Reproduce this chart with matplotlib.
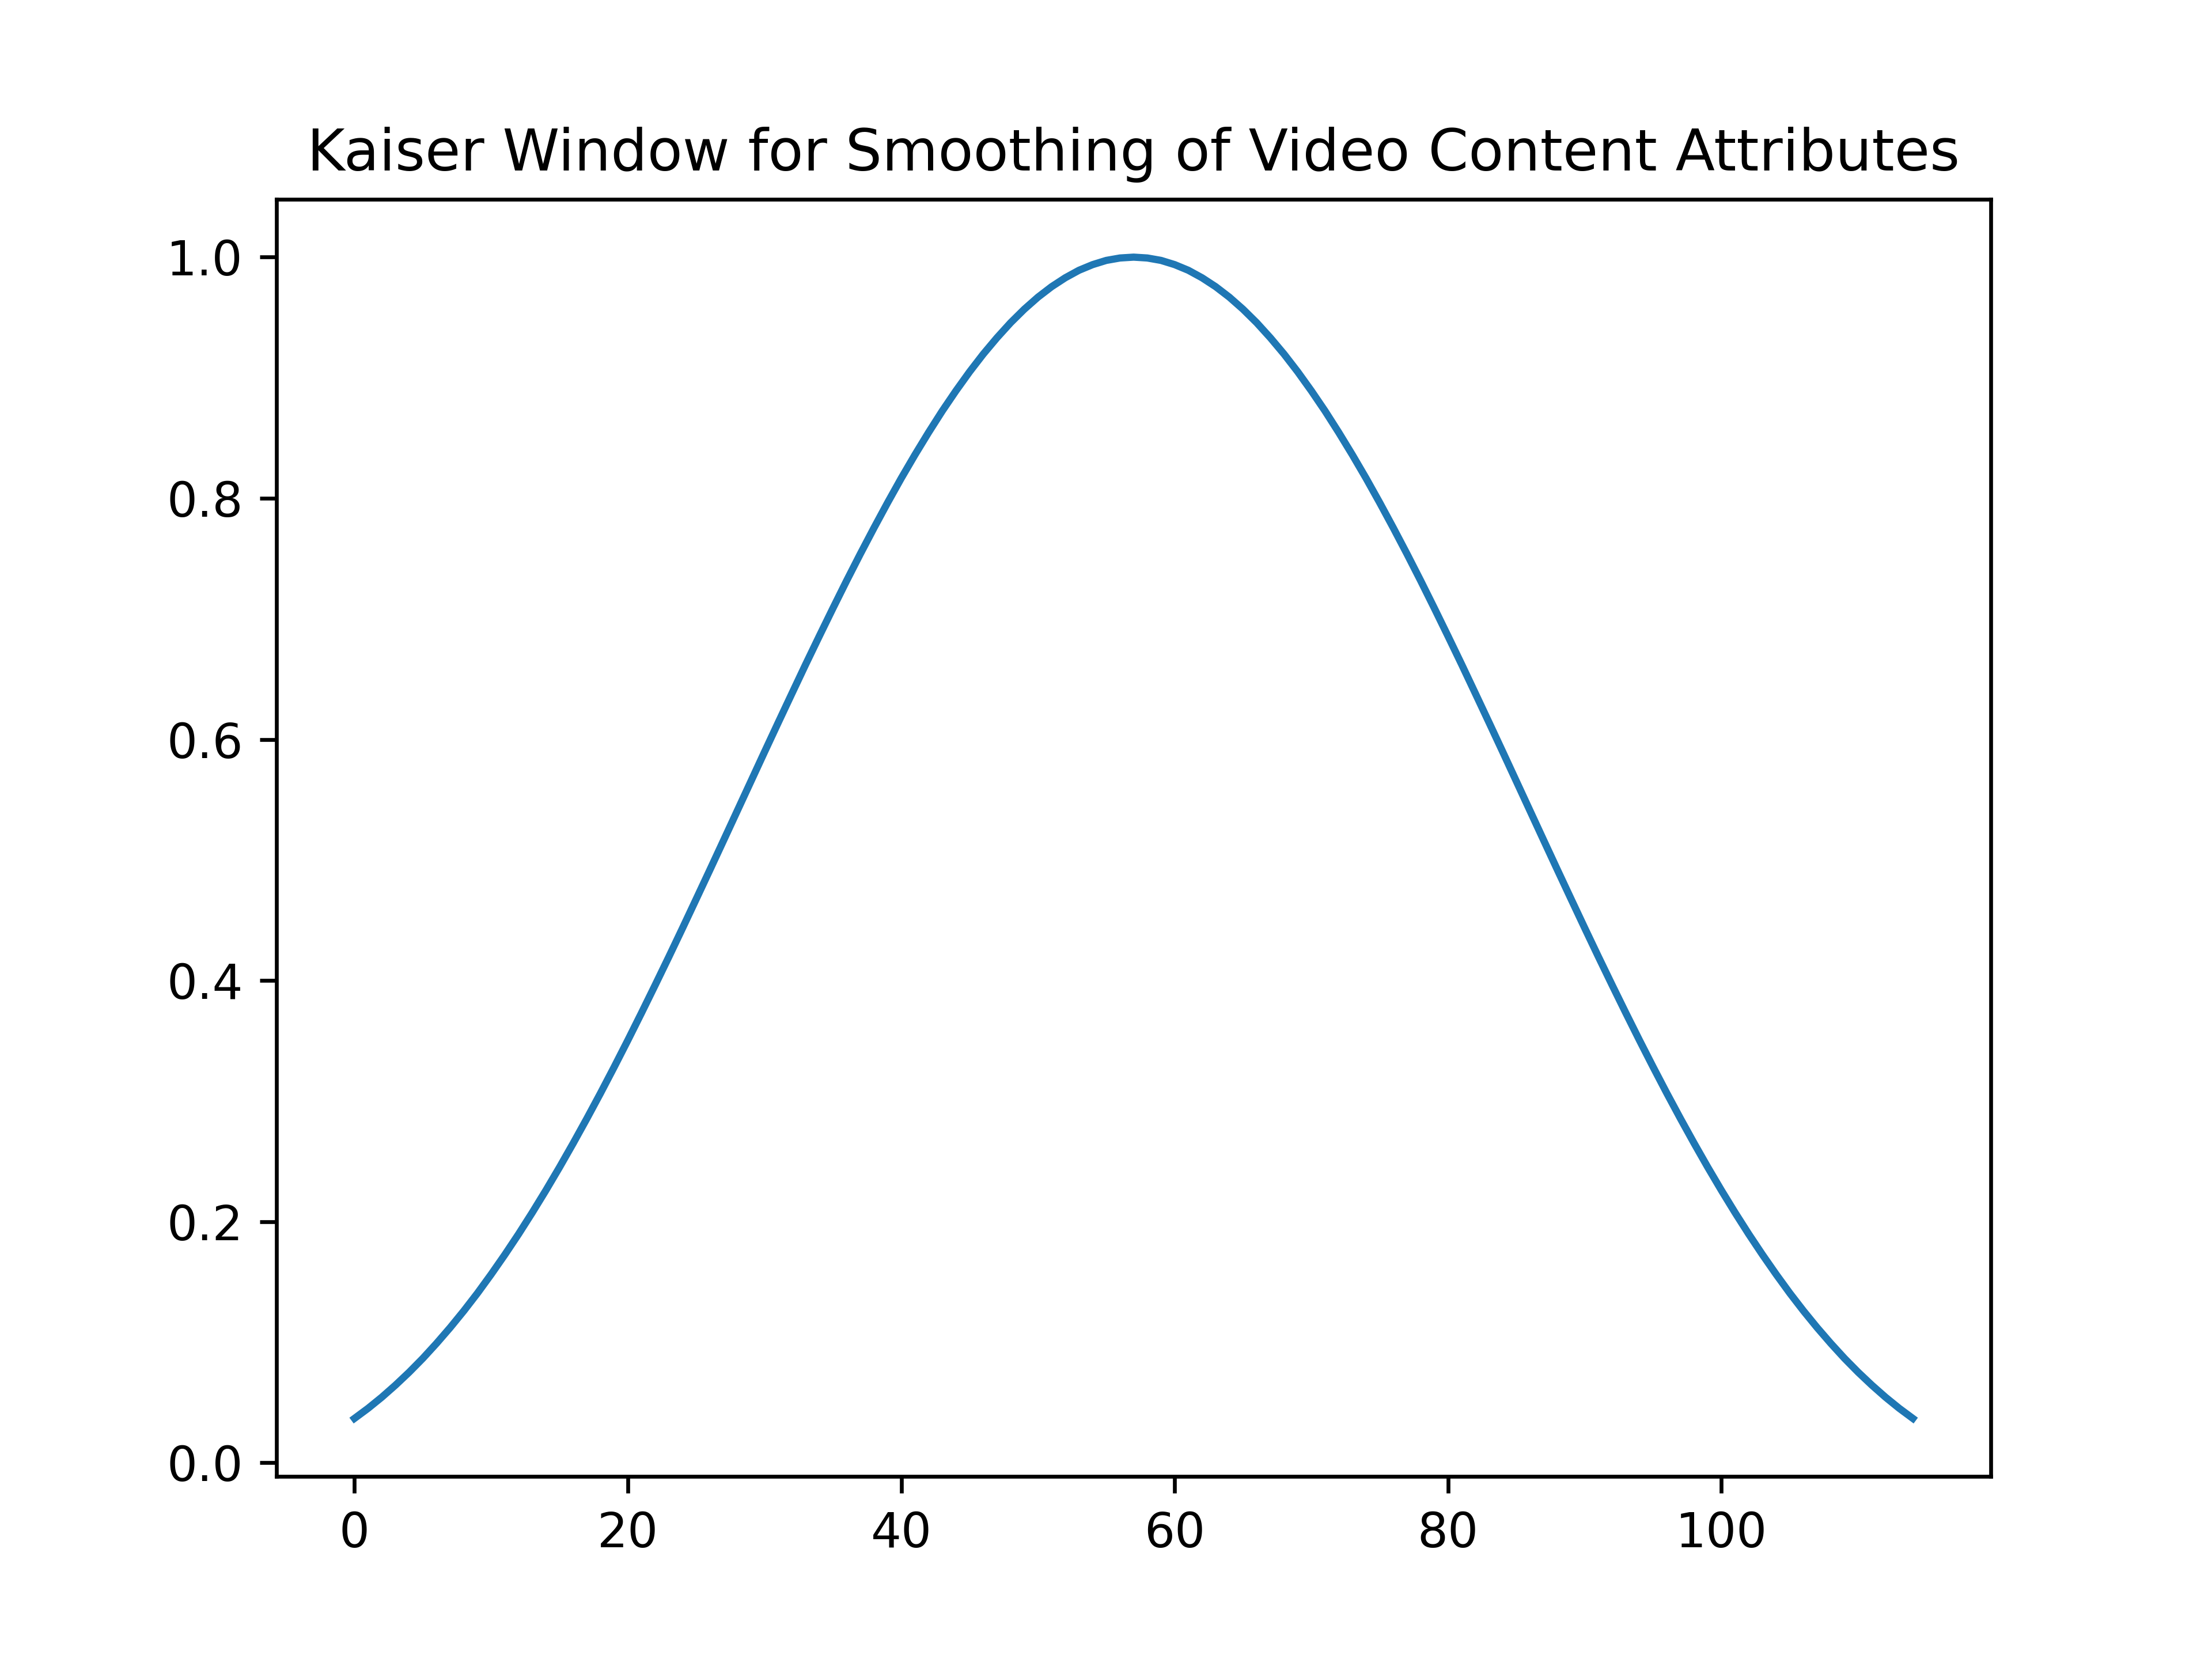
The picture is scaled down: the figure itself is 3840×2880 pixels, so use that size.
import matplotlib
matplotlib.use('Agg')
from matplotlib import pyplot as plt

# valores, uma amostra por índice (0 a 114)
amostras = list(range(115))
janela = [0.0367, 0.0451, 0.0543, 0.0643, 0.0750, 0.0865, 0.0989, 0.1120,
          0.1259, 0.1406, 0.1562, 0.1725, 0.1895, 0.2073, 0.2258, 0.2450,
          0.2649, 0.2854, 0.3065, 0.3282, 0.3504, 0.3731, 0.3962, 0.4196,
          0.4434, 0.4675, 0.4917, 0.5161, 0.5406, 0.5651, 0.5896, 0.6139,
          0.6380, 0.6620, 0.6855, 0.7087, 0.7315, 0.7537, 0.7753, 0.7963,
          0.8166, 0.8360, 0.8546, 0.8724, 0.8891, 0.9049, 0.9196, 0.9331,
          0.9456, 0.9568, 0.9668, 0.9755, 0.9829, 0.9891, 0.9938, 0.9973,
          0.9993, 1.0000,
          0.9993, 0.9973, 0.9938, 0.9891, 0.9829, 0.9755, 0.9668, 0.9568,
          0.9456, 0.9331, 0.9196, 0.9049, 0.8891, 0.8724, 0.8546, 0.8360,
          0.8166, 0.7963, 0.7753, 0.7537, 0.7315, 0.7087, 0.6855, 0.6620,
          0.6380, 0.6139, 0.5896, 0.5651, 0.5406, 0.5161, 0.4917, 0.4675,
          0.4434, 0.4196, 0.3962, 0.3731, 0.3504, 0.3282, 0.3065, 0.2854,
          0.2649, 0.2450, 0.2258, 0.2073, 0.1895, 0.1725, 0.1562, 0.1406,
          0.1259, 0.1120, 0.0989, 0.0865, 0.0750, 0.0643, 0.0543, 0.0451,
          0.0367]

plt.figure(figsize=(6.4, 4.8), dpi=600)
plt.plot(amostras, janela)
plt.title('Kaiser Window for Smoothing of Video Content Attributes')

plt.savefig('out.png', dpi=600)
